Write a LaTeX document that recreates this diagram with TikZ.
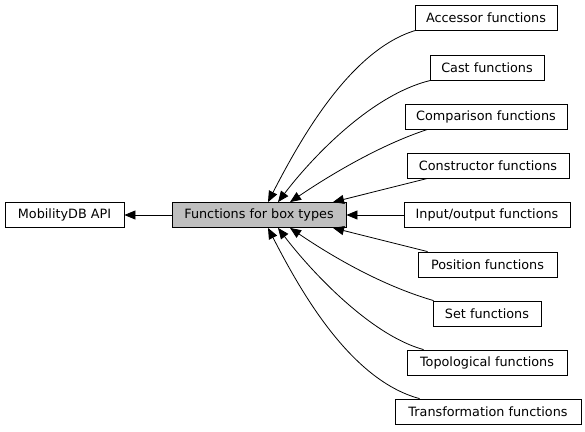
\documentclass[tikz,border=0pt]{standalone}
\usepackage{fontspec}
\setmainfont{DejaVu Sans}
\usetikzlibrary{arrows.meta}
\begin{document}
\begin{tikzpicture}[x=1pt,y=-1pt,
  box/.style={draw=black, line width=0.8pt, fill=white, minimum height=25pt, inner sep=0pt, font=\fontsize{12.8}{14}\selectfont},
  edge/.style={draw=black, line width=0.8pt, -{Triangle[length=11pt,width=9pt]}}]
\useasboundingbox (0,0) rectangle (585,431);
\node[box, minimum width=119pt] (api) at (64.5,215) {MobilityDB API};
\node[box, minimum width=174pt, fill={rgb,255:red,191;green,191;blue,191}] (main) at (259,215) {Functions for box types};
\node[box, minimum width=142pt] (acc) at (486,17.5) {Accessor functions};
\node[box, minimum width=114pt] (cast) at (487,67.5) {Cast functions};
\node[box, minimum width=162pt] (comp) at (486,116.5) {Comparison functions};
\node[box, minimum width=162pt] (cons) at (488,165.5) {Constructor functions};
\node[box, minimum width=166pt] (io) at (487,215) {Input/output functions};
\node[box, minimum width=139pt] (pos) at (487.5,264.5) {Position functions};
\node[box, minimum width=108pt] (set) at (487,313.5) {Set functions};
\node[box, minimum width=160pt] (topo) at (487,362.5) {Topological functions};
\node[box, minimum width=186pt] (trans) at (488,411.5) {Transformation functions};

\draw[edge] (main.west) -- (api.east);
\draw[edge] (io.west) -- (main.east);
\draw[edge] ([xshift=1pt]acc.south west) .. controls (350,50) and (300,140) .. ([xshift=9pt]main.north);
\draw[edge] ([xshift=1pt]cast.south west) .. controls (370,95) and (310,160) .. ([xshift=19pt]main.north);
\draw[edge] ([xshift=23pt]comp.south west) .. controls (380,145) and (330,175) .. ([xshift=31pt]main.north);
\draw[edge] ([xshift=21pt]cons.south west) -- ([xshift=74pt]main.north);
\draw[edge] ([xshift=10pt]pos.north west) -- ([xshift=74pt]main.south);
\draw[edge] ([xshift=1pt]set.north west) .. controls (380,285) and (330,255) .. ([xshift=31pt]main.south);
\draw[edge] ([xshift=17pt]topo.north west) .. controls (370,335) and (310,270) .. ([xshift=19pt]main.south);
\draw[edge] ([xshift=25pt]trans.north west) .. controls (350,380) and (300,290) .. ([xshift=9pt]main.south);
\end{tikzpicture}
\end{document}
